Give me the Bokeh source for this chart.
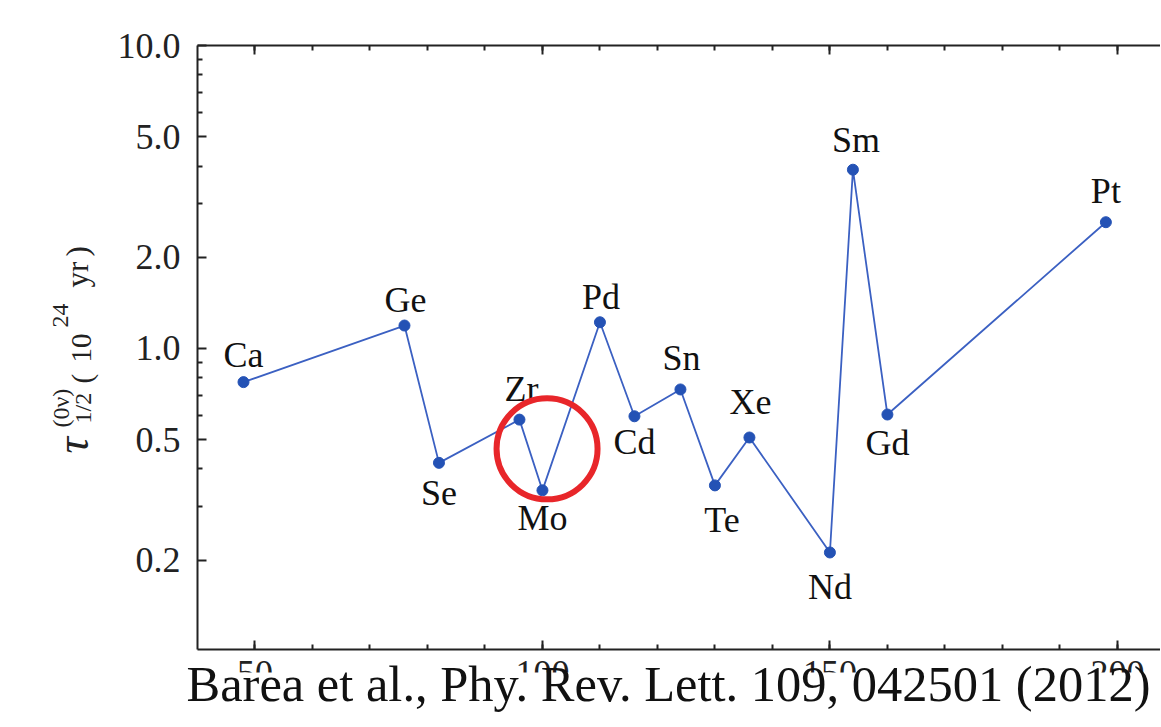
import math
from bokeh.plotting import figure
from bokeh.models import (Range1d, FixedTicker, LinearAxis, LogAxis, Label,
                          ColumnDataSource, BoxAnnotation)
from bokeh.core.properties import value
from bokeh.embed import file_html
from bokeh.resources import INLINE

# ---------------- data ----------------
elements = ["Ca", "Ge", "Se", "Zr", "Mo", "Pd", "Cd", "Sn", "Te", "Xe", "Nd", "Sm", "Gd", "Pt"]
mass_number = [48, 76, 82, 96, 100, 110, 116, 124, 130, 136, 150, 154, 160, 198]
half_life = [0.774, 1.19, 0.419, 0.582, 0.340, 1.22, 0.597, 0.732, 0.353, 0.508, 0.212, 3.89, 0.605, 2.61]

y_ticks = [0.2, 0.5, 1.0, 2.0, 5.0, 10.0]
y_tick_labels = ["0.2", "0.5", "1.0", "2.0", "5.0", "10.0"]
y_minor_ticks = [0.3, 0.4, 0.6, 0.7, 0.8, 0.9, 3, 4, 6, 7, 8, 9]
x_ticks = [50, 100, 150, 200]
x_tick_labels = ["50", "100", "150", "200"]
x_minor_ticks = list(range(50, 210, 10))

citation = "Barea et al., Phy. Rev. Lett. 109, 042501 (2012)"
highlight_element = "Mo"

# ---------------- style / placement ----------------
W, H = 1160, 726
X_START, X_END = 40.0, 207.5          # visible plot box (data)
Y_START, Y_END = 0.1014, 10.0
BOX_LEFT, BOX_TOP, BOX_BOTTOM = 197, 45, 649   # plot box edges on the page (px)
FONT = "Liberation Serif"
BASE_FIX = 0.33        # em; the renderer drops 'alphabetic' text this far below the anchor
ROT_FIX = 0.40         # em; same effect for rotated text (pushes it right)

px_per_x = (W - BOX_LEFT) / (X_END - X_START)
px_per_dec = (BOX_BOTTOM - BOX_TOP) / (math.log10(Y_END) - math.log10(Y_START))
# the frame spans the whole canvas; axes are pinned to the plot box edges
xr = Range1d(X_START - BOX_LEFT / px_per_x, X_END)
yr = Range1d(Y_START * 10 ** (-(H - BOX_BOTTOM) / px_per_dec),
             Y_END * 10 ** (BOX_TOP / px_per_dec))

# label offsets in pixels (dx right, dy up: baseline relative to each point)
LABEL_SIZE = 36
label_dx = [0, 1, 0, 2, 0, 1, 0, 1, 7, 1, 0, 3, 0, 0]
label_dy = [15, 14, -42, 19, -40, 13, -38, 20, -46, 24, -46, 18, -40, 19]

p = figure(width=W, height=H, output_backend="svg", toolbar_location=None,
           x_range=xr, y_range=yr, y_axis_type="log",
           x_axis_location=None, y_axis_location=None,
           min_border_left=0, min_border_right=0, min_border_top=0, min_border_bottom=0)
p.outline_line_color = None
p.xgrid.visible = False
p.ygrid.visible = False
p.background_fill_color = "white"
p.border_fill_color = "white"


def style_axis(ax):
    ax.axis_line_width = 2
    ax.axis_line_color = "#222222"
    ax.major_tick_line_color = "#222222"
    ax.minor_tick_line_color = "#222222"
    ax.major_tick_line_width = 2
    ax.minor_tick_line_width = 2
    ax.major_tick_in = 9
    ax.major_tick_out = 0
    ax.minor_tick_in = 5
    ax.minor_tick_out = 0
    ax.major_label_text_font = FONT
    ax.major_label_text_font_size = "36px"
    ax.major_label_text_color = "#222222"


yax = LogAxis(ticker=FixedTicker(ticks=y_ticks, minor_ticks=y_minor_ticks),
              fixed_location=X_START, bounds=(Y_START, Y_END))
style_axis(yax)
yax.major_label_overrides = dict(zip(y_ticks, y_tick_labels))
yax.major_label_standoff = 17
p.add_layout(yax, "left")

xax = LinearAxis(ticker=FixedTicker(ticks=x_ticks, minor_ticks=x_minor_ticks),
                 fixed_location=Y_START, bounds=(X_START, X_END))
style_axis(xax)
xax.major_label_overrides = dict(zip(x_ticks, x_tick_labels))
xax.major_label_standoff = 11
p.add_layout(xax, "below")

tax = LinearAxis(ticker=FixedTicker(ticks=x_ticks, minor_ticks=x_minor_ticks),
                 fixed_location=Y_END, bounds=(X_START, X_END))
style_axis(tax)
tax.major_label_overrides = {t: "" for t in x_ticks}
tax.major_label_standoff = 0
p.add_layout(tax, "above")

src = ColumnDataSource(dict(x=mass_number, y=half_life, name=elements,
                            dx=label_dx,
                            dy=[-(d + BASE_FIX * LABEL_SIZE) for d in label_dy]))
p.line("x", "y", source=src, line_color="#3b60c2", line_width=1.8)
p.scatter("x", "y", source=src, size=11, fill_color="#2452b5", line_color="#2452b5")
p.text("x", "y", text="name", source=src, x_offset="dx", y_offset="dy",
       text_font=value(FONT), text_font_size=f"{LABEL_SIZE}px", text_color="#111111",
       text_align="center", text_baseline="alphabetic")

# red highlight circle around the Mo point (centre slightly above the point)
hi = elements.index(highlight_element)
HIGHLIGHT_X = mass_number[hi] + 0.8
HIGHLIGHT_Y = 0.466
p.scatter([HIGHLIGHT_X], [HIGHLIGHT_Y], marker="circle", size=101,
          fill_color=None, line_color="#e8262a", line_width=6)


def off(px, py):
    return px - BOX_LEFT, BOX_BOTTOM - py


# y-axis label built from pieces (rotated, reading bottom to top):
# (text, font px, style, baseline x on page, start y on page)
ylabel_parts = [
    ("τ", 46, "italic", 90, 453),
    ("(0ν)", 24, "normal", 70, 427),
    ("1/2", 24, "normal", 92, 423),
    ("(", 29, "normal", 93, 383),
    ("10", 29, "normal", 93, 362),
    ("24", 24, "normal", 70, 327),
    ("yr", 31, "normal", 89, 287),
    (")", 31, "normal", 89, 256),
]
for txt, size, style, px, py in ylabel_parts:
    dx, dy = off(px, py)
    p.add_layout(Label(x=X_START, y=Y_START, x_offset=dx - ROT_FIX * size, y_offset=dy,
                       text=txt, angle=math.pi / 2, text_font=FONT,
                       text_font_size=f"{size}px", text_font_style=style,
                       text_color="#222222", text_align="left", text_baseline="alphabetic"))

# white band hiding the lower part of the x tick labels, then the citation
band_top = Y_START * 10 ** (-(672 - BOX_BOTTOM) / px_per_dec)
p.add_layout(BoxAnnotation(left=xr.start, right=xr.end, top=band_top, bottom=yr.start,
                           fill_color="white", fill_alpha=1.0, line_color=None))
CITE_SIZE = 50.5
cdx, cdy = off(186, 700)
p.add_layout(Label(x=X_START, y=Y_START, x_offset=cdx, y_offset=cdy + BASE_FIX * CITE_SIZE,
                   text=citation, text_font=FONT, text_font_size=f"{CITE_SIZE}px",
                   text_color="#111111", text_align="left", text_baseline="alphabetic"))

open("out.html", "w").write(file_html(p, INLINE))
